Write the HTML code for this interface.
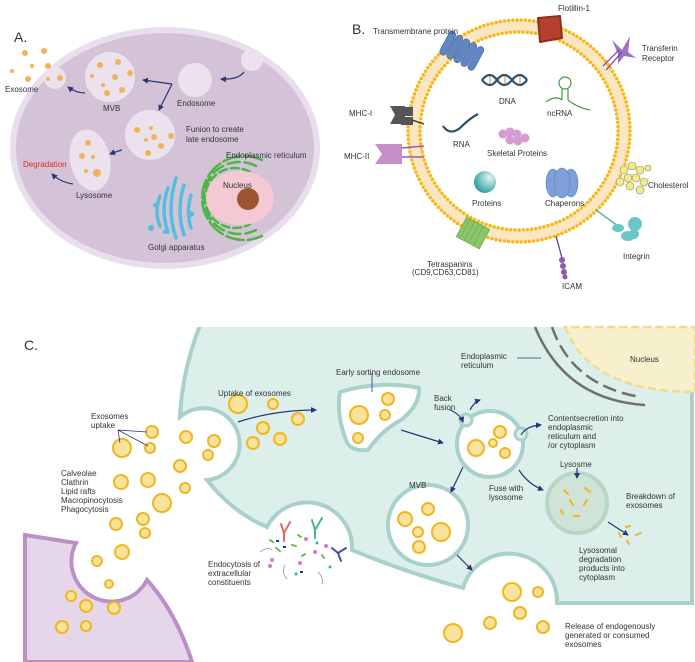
<!DOCTYPE html>
<html><head><meta charset="utf-8"><style>
html,body{margin:0;padding:0;background:#fff}
svg{display:block}
text{font-family:"Liberation Sans",sans-serif;font-size:8px;fill:#333}
.e{fill:#f9e39a;stroke:#f1b522;stroke-width:2}
.a{fill:none;stroke:#2b3578;stroke-width:1.2;marker-end:url(#ah)}
.l{fill:none;stroke:#2b3578;stroke-width:0.8}
.od{fill:#f0b35a}
.ves{fill:#fff;stroke:#a9d1cb;stroke-width:4}
</style></head><body>
<svg width="695" height="662" viewBox="0 0 695 662" xmlns="http://www.w3.org/2000/svg">
<defs>
<marker id="ah" markerWidth="6" markerHeight="6" refX="5" refY="3" orient="auto" markerUnits="userSpaceOnUse"><path d="M0,0 L6,3 L0,6 Z" fill="#2b3578"/></marker>
<radialGradient id="pg" cx="0.7" cy="0.3" r="0.8"><stop offset="0" stop-color="#e6f4f3"/><stop offset="1" stop-color="#1c9a9a"/></radialGradient>
</defs>

<!-- ===== Panel A ===== -->
<text x="14" y="42" style="font-size:14px">A.</text>
<ellipse cx="165" cy="148" rx="155" ry="121" fill="#e9dfec"/>
<ellipse cx="165" cy="148" rx="149" ry="115" fill="#d4c3d7"/>
<circle cx="252" cy="60" r="11" fill="#ebe2ee"/>
<circle cx="195" cy="80" r="17" fill="#ebe2ee"/>
<circle cx="110" cy="77" r="25" fill="#ebe2ee"/>
<circle cx="150" cy="135" r="25" fill="#ebe2ee"/>
<ellipse cx="90" cy="160" rx="20" ry="31" transform="rotate(-12 90 160)" fill="#ebe2ee"/>
<circle cx="55" cy="78" r="11" fill="#ebe2ee"/>
<g class="od">
<circle cx="25" cy="53" r="3"/><circle cx="44" cy="51" r="3"/><circle cx="32" cy="66" r="2"/><circle cx="48" cy="66" r="3"/><circle cx="12" cy="71" r="2"/><circle cx="28" cy="79" r="3"/>
<circle cx="48" cy="79" r="2"/><circle cx="60" cy="78" r="3"/>
<circle cx="100" cy="65" r="3"/><circle cx="118" cy="62" r="3"/><circle cx="130" cy="73" r="3"/><circle cx="92" cy="76" r="2"/><circle cx="115" cy="77" r="3"/><circle cx="103" cy="85" r="2"/><circle cx="122" cy="90" r="3"/><circle cx="107" cy="93" r="3"/>
<circle cx="137" cy="130" r="3"/><circle cx="151" cy="128" r="2"/><circle cx="171" cy="136" r="3"/><circle cx="154" cy="137" r="3"/><circle cx="146" cy="140" r="2"/><circle cx="161" cy="146" r="3"/><circle cx="148" cy="153" r="3"/>
<circle cx="88" cy="143" r="3"/><circle cx="82" cy="156" r="3"/><circle cx="93" cy="157" r="2"/><circle cx="86" cy="171" r="2"/><circle cx="97" cy="173" r="4"/>
</g>
<g fill="none" stroke="#4fb548" stroke-width="2.5" stroke-linecap="round">
<path d="M262,160 A42,42 0 1 0 262,236" stroke-dasharray="18 4"/>
<path d="M256,166 A36,36 0 1 0 256,230" stroke-dasharray="12 5"/>
<path d="M250,172 A30,30 0 1 0 250,224" stroke-dasharray="8 4"/>
</g>
<ellipse cx="240" cy="198" rx="34" ry="27" fill="#f4c9d3"/>
<circle cx="248" cy="199" r="11" fill="#9c5530"/>
<g fill="none" stroke="#55bde0" stroke-width="3.5" stroke-linecap="round">
<path d="M176,178 Q166,210 176,238"/>
<path d="M168,188 Q160,210 168,232"/>
<path d="M160,196 Q154,212 160,226"/>
<path d="M184,185 Q176,210 184,235"/>
<path d="M191,195 Q186,212 191,228"/>
</g>
<g fill="#55bde0"><circle cx="151" cy="228" r="3"/><circle cx="191" cy="214" r="3"/><circle cx="165" cy="232" r="2"/><circle cx="155" cy="205" r="2"/></g>
<path class="a" d="M244,72 Q238,80 221,79"/>
<path class="a" d="M172,84 L143,80"/>
<path class="a" d="M172,84 L159,110"/>
<path class="a" d="M85,93 Q76,93 68,87"/>
<path class="a" d="M122,150 Q115,152 110,154"/>
<path class="a" d="M73,184 Q60,182 52,174"/>
<text x="5" y="92">Exosome</text>
<text x="103" y="111">MVB</text>
<text x="177" y="106">Endosome</text>
<text x="186" y="132">Funion to create</text>
<text x="186" y="142">late endosome</text>
<text x="226" y="158">Endoplasmic reticulum</text>
<text x="223" y="188">Nucleus</text>
<text x="23" y="167" style="fill:#e02a2a">Degradation</text>
<text x="76" y="198">Lysosome</text>
<text x="148" y="250">Golgi apparatus</text>

<!-- ===== Panel B ===== -->
<text x="352" y="34" style="font-size:14px">B.</text>
<circle cx="519" cy="131" r="105" fill="none" stroke="#fbe6c4" stroke-width="12"/>
<circle cx="519" cy="131" r="111" fill="none" stroke="#f6b817" stroke-width="3.5" stroke-dasharray="0 4.2" stroke-linecap="round"/>
<circle cx="519" cy="131" r="99" fill="none" stroke="#f6b817" stroke-width="3.5" stroke-dasharray="0 4.2" stroke-linecap="round"/>
<g transform="rotate(28 464 52)" fill="#5f86c6" stroke="#3d5f9a" stroke-width="0.6">
<rect x="442" y="39" width="7" height="26" rx="3.5"/><rect x="450" y="39" width="7" height="26" rx="3.5"/><rect x="458" y="39" width="7" height="26" rx="3.5"/><rect x="466" y="39" width="7" height="26" rx="3.5"/><rect x="474" y="39" width="7" height="26" rx="3.5"/>
</g>
<path d="M538,18 L560,16 L562,38 L540,42 Z" fill="#b5402e" stroke="#8e2e20" stroke-linejoin="round" stroke-width="2"/>
<g fill="#9a72c2"><path d="M612,40 L622,50 L630,36 L628,52 L636,58 L624,56 L618,64 L618,54 Z"/></g>
<path d="M606,70 L622,52 M603,66 L619,50" stroke="#7a3eaa" stroke-width="1.2"/>
<path d="M390,106 L405,106 L405,124 L390,124 L395,115 Z" fill="#555"/><rect x="401" y="107" width="12" height="9" fill="#555"/><rect x="401" y="117" width="12" height="8" fill="#555"/>
<path d="M412,120 L424,124" stroke="#333" stroke-width="1.3"/>
<path d="M375,144 L402,144 L402,164 L375,164 L382,154 Z" fill="#c48fc6"/>
<path d="M402,148 L424,146 M402,157 L424,157" stroke="#9a5ab0" stroke-width="1.5"/>
<g fill="#f3e98d" stroke="#8a8a50" stroke-width="0.6">
<circle cx="624" cy="170" r="4"/><circle cx="632" cy="166" r="4"/><circle cx="640" cy="170" r="4"/><circle cx="628" cy="178" r="4"/><circle cx="636" cy="178" r="4"/><circle cx="644" cy="182" r="4"/><circle cx="620" cy="182" r="4"/><circle cx="630" cy="186" r="4"/><circle cx="640" cy="190" r="4"/><circle cx="648" cy="168" r="3"/>
</g>
<path d="M596,210 L618,226" stroke="#3fa8a8" stroke-width="1.3"/>
<g fill="#6cc6c8"><ellipse cx="618" cy="228" rx="6" ry="4"/><ellipse cx="628" cy="236" rx="7" ry="5"/><circle cx="635" cy="224" r="7"/><circle cx="634" cy="234" r="5"/></g>
<path d="M556,236 L562,258" stroke="#6b3c96" stroke-width="1.3"/>
<g fill="#8b5aa8"><circle cx="562" cy="260" r="3"/><circle cx="563" cy="266" r="3"/><circle cx="564" cy="272" r="3"/><circle cx="565" cy="277" r="2.5"/></g>
<g transform="rotate(28 473 233)"><rect x="460" y="222" width="26" height="22" fill="#8cc66a" stroke="#6aa548" stroke-width="0.8"/>
<path d="M464,222 V244 M469,222 V244 M474,222 V244 M479,222 V244" stroke="#6aa548" stroke-width="0.6"/></g>
<g fill="none" stroke="#24506e" stroke-width="2.2">
<path d="M482,80 Q490,70 497,80 T512,80 T527,80"/>
<path d="M482,80 Q490,90 497,80 T512,80 T527,80"/>
</g>
<path d="M490,76 V84 M505,76 V84 M520,76 V84" stroke="#e8a030" stroke-width="1.2"/>
<g fill="none" stroke="#3e9a48" stroke-width="1.2"><circle cx="565" cy="83" r="6"/><path d="M562,89 V100 M568,89 V100 M546,102 Q555,95 562,100 M568,100 Q578,108 590,110"/></g>
<path d="M443,126 Q450,136 460,128 Q470,118 478,114" fill="none" stroke="#24506e" stroke-width="2.2"/>
<g fill="#d69ad4"><circle cx="503" cy="134" r="4.5"/><circle cx="510" cy="132" r="4.5"/><circle cx="517" cy="134" r="4.5"/><circle cx="510" cy="140" r="4.5"/><circle cx="518" cy="141" r="4.5"/><circle cx="525" cy="138" r="4.5"/></g>
<circle cx="485" cy="182" r="11" fill="url(#pg)"/>
<g fill="#7f9fd8" stroke="#5e7fb8" stroke-width="0.6"><ellipse cx="553" cy="183" rx="7" ry="14"/><ellipse cx="571" cy="183" rx="7" ry="14"/><ellipse cx="562" cy="183" rx="8" ry="15"/></g>
<text x="373" y="34">Transmembrane protein</text>
<text x="558" y="11">Flotillin-1</text>
<text x="642" y="51">Transferin</text>
<text x="642" y="61">Receptor</text>
<text x="499" y="104">DNA</text>
<text x="547" y="116">ncRNA</text>
<text x="349" y="116">MHC-I</text>
<text x="453" y="147">RNA</text>
<text x="487" y="156">Skeletal Proteins</text>
<text x="344" y="159">MHC-II</text>
<text x="648" y="188">Cholesterol</text>
<text x="472" y="206">Proteins</text>
<text x="545" y="206">Chaperons</text>
<text x="623" y="259">Integrin</text>
<text x="427" y="267">Tetraspanins</text>
<text x="412" y="275">(CD9,CD63,CD81)</text>
<text x="562" y="289">ICAM</text>

<!-- ===== Panel C ===== -->
<text x="24" y="350" style="font-size:14px">C.</text>
<path d="M202,320 Q182,370 180,417 A36,36 0 1 1 207,480 Q232,512 267,527 A45,45 0 0 1 352,550 Q405,572 463,588 A48,48 0 0 1 557,603 L692,603 L692,320 Z" fill="#dcefeb" stroke="#a9d1cb" stroke-width="4"/>
<rect x="190" y="310" width="510" height="17" fill="#fff"/>
<path d="M25,535 L76,543 A38,38 0 0 0 147,580 Q176,612 192,662 L25,662 Z" fill="#e6d6ea" stroke="#bb8fc7" stroke-width="4"/>
<path d="M565,327 Q590,392 695,392 L695,327 Z" fill="#f6f0cc" stroke="#f0dc8a" stroke-width="2.5" stroke-dasharray="8 4"/>
<g fill="none" stroke="#707070" stroke-width="2.5">
<path d="M535,327 Q565,400 645,405"/>
<path d="M552,327 Q572,385 640,397" stroke-dasharray="14 6"/>
</g>
<path class="l" d="M517,358 L541,358"/>
<path class="ves" d="M340,392 Q380,380 419,388 Q420,405 401,420 Q382,430 368,450 Q350,452 346,440 Q336,415 340,392 Z"/>
<circle class="ves" cx="490" cy="444" r="33"/>
<circle cx="466" cy="420" r="6" fill="#dcefeb" stroke="#a9d1cb" stroke-width="3"/>
<circle cx="521" cy="434" r="6" fill="#dcefeb" stroke="#a9d1cb" stroke-width="3"/>
<circle class="ves" cx="428" cy="525" r="40"/>
<circle cx="577" cy="503" r="30" fill="#cfe4d6" stroke="#b8d6c7" stroke-width="4"/>
<g stroke="#f2b522" stroke-width="2" stroke-linecap="round">
<path d="M564,490 L568,494 M585,488 L590,492 M570,500 L573,505 M587,500 L584,505 M561,510 L563,514 M574,516 L579,516 M619,533 L621,537 M626,527 L630,526 M627,541 L629,544 M636,535 L641,533"/>
</g>
<g stroke-width="2" fill="none" stroke-linecap="round">
<path d="M281,524 L284,533 L290,522 M284,533 V541" stroke="#e06a6a"/>
<path d="M312,520 L315,530 L322,518 M315,530 V538" stroke="#4bb38e"/>
<path d="M332,548 L338,553 L346,548 M338,553 L341,561" stroke="#4a4aa8"/>
<path d="M270,540 l3,2 M292,545 l4,1 M302,556 l3,-2 M276,548 l4,3 M322,555 l2,3 M298,535 l3,2" stroke="#6bbf4e"/>
<path d="M260,552 q8,-6 12,-2 M318,572 q6,6 4,12 M285,565 q-4,8 2,14" stroke="#a8a8d8" stroke-width="1"/>
</g>
<g fill="#d478c8"><circle cx="272" cy="560" r="2"/><circle cx="306" cy="539" r="2"/><circle cx="315" cy="552" r="2"/><circle cx="300" cy="563" r="2"/><circle cx="326" cy="546" r="2"/><circle cx="270" cy="566" r="2"/></g>
<g fill="#2ab0c0"><circle cx="317" cy="543" r="1.5"/><circle cx="330" cy="567" r="1.5"/><circle cx="296" cy="574" r="1.5"/></g>
<g fill="#2b3578"><rect x="276" y="540" width="3" height="2"/><rect x="300" y="571" width="3" height="2"/><rect x="283" y="546" width="3" height="2"/></g>
<g>
<circle class="e" cx="122" cy="448" r="9"/><circle class="e" cx="152" cy="432" r="6"/><circle class="e" cx="150" cy="448" r="5"/><circle class="e" cx="186" cy="437" r="6"/><circle class="e" cx="214" cy="441" r="6"/><circle class="e" cx="208" cy="455" r="5"/><circle class="e" cx="180" cy="466" r="6"/><circle class="e" cx="121" cy="482" r="7"/><circle class="e" cx="148" cy="480" r="7"/><circle class="e" cx="185" cy="488" r="5"/><circle class="e" cx="162" cy="503" r="9"/><circle class="e" cx="143" cy="519" r="6"/><circle class="e" cx="116" cy="524" r="6"/><circle class="e" cx="145" cy="533" r="5"/><circle class="e" cx="122" cy="552" r="7"/><circle class="e" cx="97" cy="561" r="5"/><circle class="e" cx="109" cy="584" r="4"/><circle class="e" cx="71" cy="596" r="5"/><circle class="e" cx="86" cy="606" r="6"/><circle class="e" cx="114" cy="608" r="6"/><circle class="e" cx="62" cy="627" r="6"/><circle class="e" cx="86" cy="626" r="5"/>
<circle class="e" cx="238" cy="404" r="9"/><circle class="e" cx="273" cy="404" r="5"/><circle class="e" cx="298" cy="419" r="6"/><circle class="e" cx="263" cy="428" r="6"/><circle class="e" cx="253" cy="443" r="6"/><circle class="e" cx="280" cy="439" r="6"/>
<circle class="e" cx="359" cy="415" r="9"/><circle class="e" cx="388" cy="399" r="6"/><circle class="e" cx="385" cy="415" r="5"/><circle class="e" cx="358" cy="438" r="5"/>
<circle class="e" cx="476" cy="448" r="8"/><circle class="e" cx="500" cy="432" r="6"/><circle class="e" cx="493" cy="443" r="4"/><circle class="e" cx="505" cy="453" r="5"/>
<circle class="e" cx="405" cy="519" r="7"/><circle class="e" cx="428" cy="509" r="6"/><circle class="e" cx="418" cy="532" r="5"/><circle class="e" cx="441" cy="532" r="9"/><circle class="e" cx="419" cy="547" r="6"/>
<circle class="e" cx="512" cy="592" r="9"/><circle class="e" cx="538" cy="592" r="5"/><circle class="e" cx="520" cy="613" r="6"/><circle class="e" cx="490" cy="623" r="6"/><circle class="e" cx="453" cy="633" r="9"/><circle class="e" cx="543" cy="627" r="6"/>
</g>
<path class="l" d="M118,430 L147,432 M118,430 L148,446 M118,430 L120,443"/>
<path class="a" d="M238,422 Q275,410 316,410"/>
<path class="a" d="M401,430 L443,443"/>
<path class="a" d="M450,410 Q460,414 463,422"/>
<path class="a" d="M470,410 Q474,402 480,400"/>
<path class="a" d="M521,435 Q526,426 541,425"/>
<path class="a" d="M463,467 L451,492"/>
<path class="a" d="M519,470 Q528,484 543,490"/>
<path class="a" d="M608,522 L628,535"/>
<path class="a" d="M457,555 L472,570"/>
<path class="l" d="M372,373 L372,392"/>
<path class="a" d="M577,468 L577,478"/>
<text x="91" y="419">Exosomes</text>
<text x="91" y="428">uptake</text>
<text x="61" y="476">Calveolae</text>
<text x="61" y="485">Clathrin</text>
<text x="61" y="494">Lipid rafts</text>
<text x="61" y="503">Macropinocytosis</text>
<text x="61" y="512">Phagocytosis</text>
<text x="218" y="396">Uptake of exosomes</text>
<text x="336" y="375">Early sorting endosome</text>
<text x="461" y="359">Endoplasmic</text>
<text x="461" y="368">reticulum</text>
<text x="630" y="362">Nucleus</text>
<text x="434" y="401">Back</text>
<text x="434" y="410">fusion</text>
<text x="548" y="421">Contentsecretion into</text>
<text x="548" y="430">endoplasmic</text>
<text x="548" y="439">reticulum and</text>
<text x="548" y="448">/or cytoplasm</text>
<text x="560" y="467">Lysosme</text>
<text x="409" y="488">MVB</text>
<text x="489" y="491">Fuse with</text>
<text x="489" y="500">lysosome</text>
<text x="626" y="499">Breakdown of</text>
<text x="626" y="508">exosomes</text>
<text x="579" y="553">Lysosomal</text>
<text x="579" y="562">degradation</text>
<text x="579" y="571">products into</text>
<text x="579" y="580">cytoplasm</text>
<text x="208" y="567">Endocytosis of</text>
<text x="208" y="576">extracellular</text>
<text x="208" y="585">constituents</text>
<text x="565" y="629">Release of endogenously</text>
<text x="565" y="638">generated or consumed</text>
<text x="565" y="647">exosomes</text>
</svg>
</body></html>
